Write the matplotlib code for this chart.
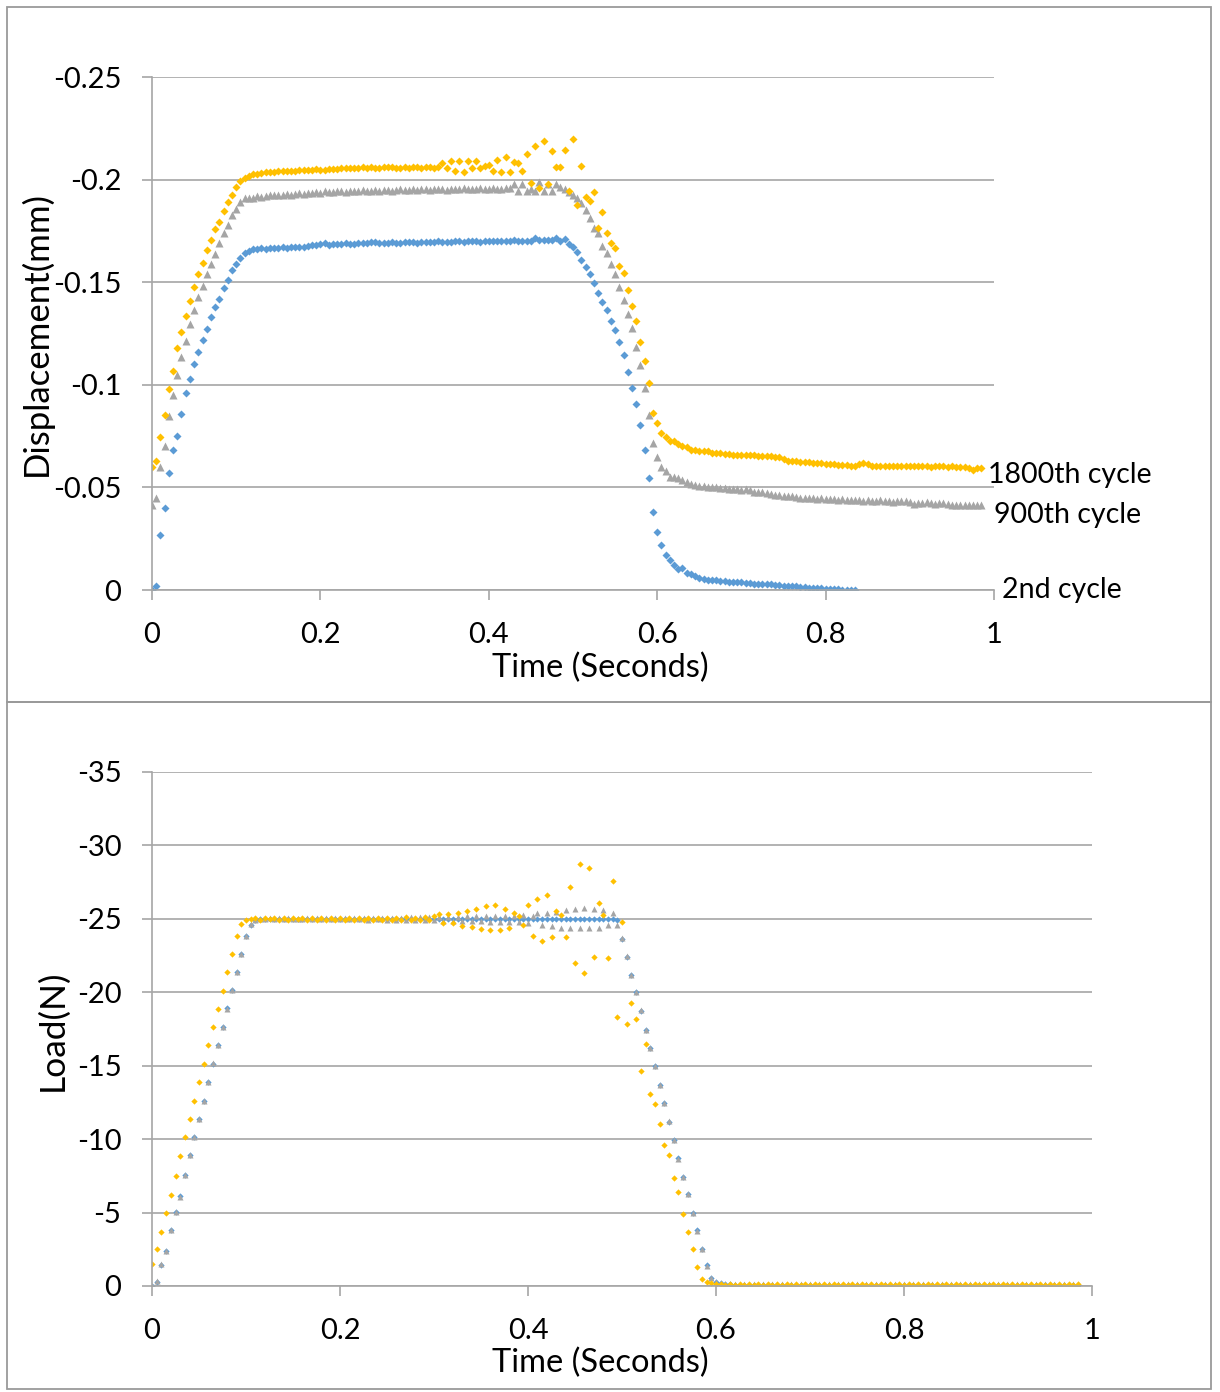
import numpy as np
import matplotlib
matplotlib.use("Agg")
import matplotlib.pyplot as plt
from matplotlib.patches import Rectangle

plt.rcParams['font.family'] = ['Lato', 'DejaVu Sans']

DT = 0.005  # sampling step of the recorder (s)

# ---- displacement (mm), one value per sample ----
DISP_2ND = [
    0, -0.002, -0.027, -0.040, -0.057, -0.068, -0.075, -0.086, -0.096, -0.103,
    -0.110, -0.116, -0.122, -0.127, -0.133, -0.138, -0.142, -0.147, -0.151, -0.156,
    -0.159, -0.162, -0.164, -0.165, -0.166,
    -0.166, -0.1665, -0.166, -0.1665, -0.1665, -0.1665, -0.167, -0.1665, -0.167, -0.167,
    -0.167, -0.167, -0.1675, -0.168, -0.168, -0.1685, -0.169, -0.168, -0.1685, -0.1685,
    -0.1685, -0.169, -0.1685, -0.1685, -0.169, -0.169, -0.169, -0.1695, -0.1695, -0.169,
    -0.169, -0.169, -0.1695, -0.169, -0.169, -0.1695, -0.1695, -0.1695, -0.169, -0.1695,
    -0.1695, -0.1695, -0.1695, -0.170, -0.1695, -0.1695, -0.1695, -0.170, -0.170, -0.1695,
    -0.170, -0.170, -0.170, -0.1695, -0.170, -0.170, -0.170, -0.170, -0.170, -0.170,
    -0.170, -0.1705, -0.170, -0.170, -0.170, -0.170, -0.1715, -0.1705, -0.1705, -0.1705, -0.1705,
    -0.1715, -0.170, -0.1712,
    -0.1685,
    -0.167, -0.1646, -0.161, -0.1576, -0.154, -0.1495, -0.1446, -0.1405, -0.1365, -0.131,
    -0.1265, -0.121, -0.1145, -0.1064, -0.0983, -0.0906, -0.0802, -0.068, -0.0544, -0.0378,
    -0.0284, -0.022, -0.017, -0.0146, -0.0122, -0.0102, -0.0106, -0.0085, -0.0078, -0.0068,
    -0.006, -0.0052,
    -0.005, -0.005, -0.0048, -0.0045, -0.0045, -0.004, -0.004, -0.004, -0.0038, -0.0035,
    -0.0035, -0.003, -0.003, -0.003, -0.003, -0.0028, -0.0025, -0.0025, -0.002, -0.002,
    -0.002, -0.002, -0.0015, -0.0015, -0.001, -0.001, -0.001, -0.0008, -0.0005, -0.0005,
    -0.0005, -0.0003, -0.0002, 0, 0, 0,
]

DISP_900 = [
    -0.0414, -0.0447, -0.0597, -0.0704, -0.0848, -0.0948, -0.1048, -0.1135, -0.1215, -0.1296,
    -0.1365, -0.1428, -0.1483, -0.154, -0.1589, -0.1639, -0.169, -0.1739, -0.1778, -0.1826,
    -0.1859, -0.1893, -0.191, -0.191, -0.191,
    -0.192, -0.1915, -0.192, -0.1925, -0.1925, -0.1925, -0.1925, -0.193, -0.1925, -0.193,
    -0.1935, -0.193, -0.1935, -0.1935, -0.194, -0.1935, -0.1945, -0.194, -0.194, -0.1945,
    -0.1945, -0.194, -0.1945, -0.1945, -0.1945, -0.195, -0.1945, -0.1945, -0.195, -0.1945,
    -0.195, -0.195, -0.1945, -0.195, -0.1955, -0.195, -0.195, -0.1955, -0.195, -0.1955,
    -0.1955, -0.195, -0.1955, -0.1955, -0.1955, -0.195, -0.1955, -0.1955, -0.1955, -0.196,
    -0.1955, -0.1955, -0.1955, -0.196, -0.1955, -0.1955, -0.196, -0.1955, -0.1955, -0.196, -0.196,
    -0.198, -0.1945, -0.198, -0.1945, -0.1955, -0.1945, -0.199, -0.1945, -0.198, -0.1945,
    -0.198, -0.1965, -0.1955,
    -0.194, -0.1925, -0.191, -0.1885, -0.1852, -0.1811, -0.1763, -0.1739, -0.1677, -0.164,
    -0.159, -0.154, -0.1478, -0.1413, -0.1345, -0.1275, -0.1183, -0.1096, -0.0983, -0.0853,
    -0.0715, -0.0647, -0.0601, -0.0582, -0.0553, -0.0551, -0.0544, -0.0536, -0.0528, -0.0517,
    -0.051, -0.0505, -0.0505, -0.050, -0.050, -0.050, -0.0495, -0.0495, -0.049, -0.049,
    -0.049, -0.0485, -0.049, -0.0485, -0.048, -0.048, -0.048, -0.0475, -0.047, -0.0465,
    -0.0465, -0.046, -0.046, -0.046, -0.0455, -0.045, -0.045, -0.045, -0.045, -0.0445,
    -0.045, -0.0445, -0.0445, -0.0445, -0.044, -0.0445, -0.044, -0.044, -0.044, -0.044,
    -0.0435, -0.044, -0.0435, -0.0435, -0.044, -0.0435, -0.0435, -0.043, -0.0435, -0.0435,
    -0.0435, -0.043, -0.042, -0.0425, -0.0425, -0.043, -0.0425, -0.042, -0.0425, -0.0425,
    -0.042, -0.0415, -0.0415, -0.0415, -0.0415, -0.0415, -0.0415, -0.0415, -0.0415,
]

DISP_1800 = [
    -0.0597, -0.063, -0.0748, -0.0853, -0.0978, -0.1066, -0.1178, -0.1259, -0.1334, -0.1408,
    -0.1478, -0.154, -0.1595, -0.1657, -0.1707, -0.1758, -0.1795, -0.1845, -0.1889, -0.1926,
    -0.1964, -0.1994, -0.2008, -0.2019, -0.2027,
    -0.2027, -0.203, -0.2035, -0.2035, -0.2035, -0.204, -0.2041, -0.2041, -0.2041, -0.2041,
    -0.2045, -0.2045, -0.2045, -0.2045, -0.205, -0.2047, -0.2047, -0.205, -0.205, -0.205,
    -0.2055, -0.2055, -0.2055, -0.2055, -0.2055, -0.206, -0.2055, -0.206, -0.2055, -0.2055,
    -0.206, -0.206, -0.206, -0.2055, -0.2055, -0.206, -0.2055, -0.206, -0.206, -0.2055,
    -0.206, -0.206, -0.2055, -0.206,
    -0.208, -0.2055, -0.209, -0.204, -0.209, -0.2035, -0.209, -0.2058, -0.209, -0.2058,
    -0.2065, -0.207, -0.204, -0.2096, -0.2035, -0.211, -0.2035, -0.2087, -0.208, -0.204,
    -0.2124, -0.1985, -0.2165, -0.1957, -0.219, -0.1978, -0.2138, -0.206, -0.206, -0.2144,
    -0.1944, -0.2197, -0.1876, -0.2066, -0.1914, -0.1896, -0.1941, -0.1763, -0.184, -0.1739,
    -0.169, -0.1665, -0.158, -0.1547, -0.146, -0.1384, -0.1313, -0.121, -0.1115, -0.101,
    -0.0864, -0.0812, -0.0764, -0.0744, -0.0728, -0.0725, -0.071, -0.070, -0.0698, -0.068,
    -0.068, -0.0675, -0.0675, -0.0675, -0.067, -0.067, -0.067, -0.0665, -0.0665, -0.066,
    -0.066, -0.066, -0.066, -0.066, -0.066, -0.0655, -0.0655, -0.0655, -0.0655, -0.065,
    -0.065, -0.064, -0.063, -0.063, -0.063, -0.0625, -0.0625, -0.0625, -0.062, -0.062,
    -0.062, -0.0615, -0.0615, -0.0615, -0.061, -0.061, -0.061, -0.0605, -0.0605, -0.0615,
    -0.062, -0.0615, -0.0605, -0.0605, -0.0605, -0.0605, -0.0605, -0.0605, -0.0605, -0.0605,
    -0.0605, -0.0605, -0.0605, -0.0605, -0.0605, -0.0605, -0.060, -0.0605, -0.0605, -0.0605,
    -0.060, -0.0605, -0.060, -0.060, -0.060, -0.0595, -0.0585, -0.0595, -0.0595,
]

# ---- load (N), one value per sample ----
LOAD_2ND = [
    0, -0.3, -1.45, -2.4, -3.8, -5.05, -6.1, -7.55, -8.9, -10.15,
    -11.35, -12.6, -13.9, -15.15, -16.4, -17.65, -18.9, -20.15, -21.4, -22.6,
    -23.8, -24.6, -24.95, -25.0, -25.0,
    -25.0, -25.02, -24.98, -25.0, -25.01, -25.0, -24.99, -25.0, -25.02, -25.0,
    -25.0, -24.98, -25.0, -25.01, -25.0, -25.0, -24.99, -25.02, -25.0, -25.0,
    -25.01, -25.0, -24.98, -25.0, -25.0, -25.02, -25.0, -24.99, -25.0, -25.01,
    -25.0, -25.0, -24.98, -25.02, -25.0, -25.0, -25.01, -24.99, -25.0, -25.0,
    -25.02, -25.0, -24.98, -25.0, -25.01, -25.0, -25.0, -24.99, -25.02, -25.0,
    -25.0, -24.98, -25.0, -25.01, -25.0, -25.02, -25.0, -24.99, -25.0, -25.0,
    -25.01, -25.0, -24.98, -25.0, -25.02, -25.0, -25.0, -24.99, -25.0, -25.01,
    -25.0, -25.02, -25.0, -24.98, -24.9,
    -23.6, -22.4, -21.15, -20.0, -18.75, -17.4, -16.2, -14.95, -13.7, -12.45,
    -11.2, -9.95, -8.7, -7.45, -6.25, -5.0, -3.8, -2.55, -1.4, -0.55, -0.3,
    -0.2, -0.15, -0.12, -0.1, -0.1, -0.08, -0.1, -0.08, -0.08, -0.1,
    -0.08, -0.1, -0.08, -0.08, -0.1, -0.08, -0.08, -0.1, -0.08, -0.08,
    -0.1, -0.08, -0.08, -0.1, -0.08, -0.08, -0.1, -0.08, -0.08, -0.1,
    -0.08, -0.08, -0.1, -0.08, -0.08, -0.1, -0.08, -0.08, -0.1, -0.08,
    -0.08, -0.1, -0.08, -0.08, -0.1, -0.08, -0.08, -0.1, -0.08, -0.08,
    -0.1, -0.08, -0.08, -0.1, -0.08, -0.08, -0.1, -0.08, -0.08, -0.1,
    -0.08, -0.08, -0.1, -0.08, -0.08, -0.1, -0.08, -0.08, -0.1, -0.08,
    -0.08, -0.1, -0.08, -0.08, -0.1, -0.08, -0.08,
]

LOAD_900 = [
    0, -0.34, -1.48, -2.38, -3.81, -5.06, -6.08, -7.54, -8.9, -10.15,
    -11.35, -12.62, -13.89, -15.16, -16.39, -17.66, -18.88, -20.16, -21.38, -22.61,
    -23.83, -24.63, -24.95, -25.0, -25.0,
    -25.05, -24.97, -25.03, -24.98, -25.04, -24.97, -25.02, -24.98, -25.05, -24.96,
    -25.03, -24.98, -25.04, -24.97, -25.03, -24.97, -25.05, -24.96, -25.04, -24.97,
    -25.06, -24.95, -25.05, -24.96, -25.06, -24.95, -25.07, -24.94, -25.06, -24.95,
    -25.1, -24.92, -25.1, -24.9, -25.12, -24.9, -25.12, -24.88, -25.14, -24.87,
    -25.15, -24.86, -25.17, -24.84, -25.18, -24.83, -25.2, -24.82, -25.2, -24.8,
    -25.22, -24.8, -25.22, -24.78, -25.25,
    -24.7, -25.2, -25.4, -24.6, -25.4, -24.5, -25.45, -24.4, -25.6, -24.4,
    -25.65, -24.35, -25.77, -24.35, -25.65, -24.4, -25.6, -24.56, -25.4, -24.56,
    -23.67, -22.47, -21.18, -20.04, -18.79, -17.43, -16.23, -14.98, -13.69, -12.44,
    -11.21, -9.94, -8.67, -7.44, -6.24, -4.99, -3.77, -2.54, -1.38, -0.52, -0.3,
    -0.2, -0.14, -0.12, -0.12, -0.1, -0.12, -0.1, -0.12, -0.1, -0.12,
    -0.1, -0.12, -0.1, -0.12, -0.1, -0.12, -0.1, -0.12, -0.1, -0.12,
    -0.1, -0.12, -0.1, -0.12, -0.1, -0.12, -0.1, -0.12, -0.1, -0.12,
    -0.1, -0.12, -0.1, -0.12, -0.1, -0.12, -0.1, -0.12, -0.1, -0.12,
    -0.1, -0.12, -0.1, -0.12, -0.1, -0.12, -0.1, -0.12, -0.1, -0.12,
    -0.1, -0.12, -0.1, -0.12, -0.1, -0.12, -0.1, -0.12, -0.1, -0.12,
    -0.1, -0.12, -0.1, -0.12, -0.1, -0.12, -0.1, -0.12, -0.1, -0.12,
    -0.1, -0.12, -0.1, -0.12, -0.1, -0.12, -0.14,
]

LOAD_1800 = [
    -1.48, -2.54, -3.68, -4.99, -6.22, -7.51, -8.83, -10.12, -11.35, -12.6,
    -13.87, -15.12, -16.43, -17.66, -18.86, -20.07, -21.4, -22.61, -23.83, -24.63,
    -24.92, -25.0,
    -25.05, -24.95, -25.06, -24.96, -25.04, -24.95, -25.06, -24.94, -25.05, -24.96,
    -25.06, -24.95, -25.07, -24.94, -25.05, -24.95, -25.06, -24.94, -25.07, -24.95,
    -25.05, -24.94, -25.08, -24.93, -25.06, -24.95, -25.08, -24.92, -25.07, -24.94,
    -25.08, -24.93, -25.1, -24.9, -25.08, -24.92, -25.1, -24.9,
    -25.2, -25.3, -24.7, -25.3, -24.7, -25.4, -24.5, -25.56, -24.42, -25.7,
    -24.3, -25.87, -24.24, -25.94, -24.24, -25.7, -24.36, -25.4, -25.2, -24.58,
    -25.94, -23.83, -26.35, -23.5, -26.62, -23.74, -25.53, -25.26, -23.74, -27.15,
    -22.0, -28.73, -21.29, -28.44, -22.42, -26.1, -25.26, -22.31, -27.6, -18.34,
    -24.8, -17.84, -19.3, -18.16, -14.66, -16.46, -13.1, -12.37, -11.0, -9.62,
    -8.9, -7.33, -6.38, -4.9, -3.7, -2.54, -1.32, -0.45, -0.25, -0.2,
    -0.15, -0.12, -0.1, -0.12, -0.1, -0.12, -0.1, -0.12, -0.1, -0.12,
    -0.1, -0.12, -0.1, -0.12, -0.1, -0.12, -0.1, -0.12, -0.1, -0.12,
    -0.1, -0.12, -0.1, -0.12, -0.1, -0.12, -0.1, -0.12, -0.1, -0.12,
    -0.1, -0.12, -0.1, -0.12, -0.1, -0.12, -0.1, -0.12, -0.1, -0.12,
    -0.1, -0.12, -0.1, -0.12, -0.1, -0.12, -0.1, -0.12, -0.1, -0.12,
    -0.1, -0.12, -0.1, -0.12, -0.1, -0.12, -0.1, -0.12, -0.1, -0.12,
    -0.1, -0.12, -0.1, -0.12, -0.1, -0.12, -0.1, -0.12, -0.1, -0.12,
    -0.1, -0.12, -0.1, -0.12, -0.1, -0.12, -0.1, -0.12,
]

SERIES_NAMES = ["2nd cycle", "900th cycle", "1800th cycle"]
X_TICKS = [0, 0.2, 0.4, 0.6, 0.8, 1]
Y_TICKS_DISP = [0, -0.05, -0.1, -0.15, -0.2, -0.25]
Y_TICKS_LOAD = [0, -5, -10, -15, -20, -25, -30, -35]

BLUE = "#5B9BD5"
GRAY = "#A5A5A5"
ORANGE = "#FFC000"
GRID = "#A6A6A6"

W, H = 1220, 1392


def fx(px):
    return px / W


def fy(py):
    return 1 - py / H


def times(vals):
    return np.arange(len(vals)) * DT


def style_axes(ax, yticks, ylim):
    ax.set_xlim(0, 1)
    ax.set_ylim(*ylim)
    ax.set_xticks(X_TICKS)
    ax.set_xticklabels([f"{v:g}" for v in X_TICKS])
    ax.set_yticks(yticks)
    ax.set_yticklabels([f"{v:g}" for v in yticks])
    ax.grid(axis="y", color=GRID, lw=1.2)
    ax.set_axisbelow(True)
    for s in ["top", "right"]:
        ax.spines[s].set_visible(False)
    for s in ["left", "bottom"]:
        ax.spines[s].set_color(GRID)
        ax.spines[s].set_linewidth(1.2)
    ax.tick_params(axis="both", direction="out", length=7, width=1.2,
                   color=GRID, labelsize=21, labelcolor="black")
    ax.tick_params(axis="x", pad=16)
    ax.tick_params(axis="y", pad=15)


fig = plt.figure(figsize=(W / 100, H / 100), dpi=100)

# panel frames
fig.patches.append(Rectangle((fx(7), fy(702)), fx(1211) - fx(7), fy(7) - fy(702),
                             transform=fig.transFigure, fill=False, ec="#9A9A9A", lw=1.3))
fig.patches.append(Rectangle((fx(7), fy(1389)), fx(1211) - fx(7), fy(702) - fy(1389),
                             transform=fig.transFigure, fill=False, ec="#9A9A9A", lw=1.3))

# --- top: displacement ---
ax1 = fig.add_axes([fx(152), fy(590), fx(994) - fx(152), fy(77) - fy(590)])
ax1.plot(times(DISP_2ND), DISP_2ND, "D", ms=4.0, color=BLUE, mec="none")
ax1.plot(times(DISP_900), DISP_900, "^", ms=5.6, color=GRAY, mec="none")
ax1.plot(times(DISP_1800), DISP_1800, "D", ms=4.0, color=ORANGE, mec="none")
style_axes(ax1, Y_TICKS_DISP, (0, -0.25))

# series labels at line ends
fig.text(fx(988), fy(475), SERIES_NAMES[2], fontsize=20.5, va="center", ha="left")
fig.text(fx(994), fy(515), SERIES_NAMES[1], fontsize=20.5, va="center", ha="left")
fig.text(fx(1002), fy(590), SERIES_NAMES[0], fontsize=20.5, va="center", ha="left")

fig.text(fx(600), fy(668), "Time (Seconds)", fontsize=23.5, ha="center", va="center")
fig.text(fx(36), fy(333), "Displacement(mm)", fontsize=25, rotation=90,
         ha="center", va="center")

# --- bottom: load ---
ax2 = fig.add_axes([fx(152), fy(1286), fx(1092) - fx(152), fy(772) - fy(1286)])
ax2.plot(times(LOAD_2ND), LOAD_2ND, "D", ms=3.2, color=BLUE, mec="none")
ax2.plot(times(LOAD_900), LOAD_900, "^", ms=4.4, color=GRAY, mec="none")
ax2.plot(times(LOAD_1800), LOAD_1800, "D", ms=3.2, color=ORANGE, mec="none")
style_axes(ax2, Y_TICKS_LOAD, (0, -35))

fig.text(fx(600), fy(1363), "Time (Seconds)", fontsize=23.5, ha="center", va="center")
fig.text(fx(52), fy(1030), "Load(N)", fontsize=25.5, rotation=90,
         ha="center", va="center")

fig.savefig("out.png", dpi=100)
